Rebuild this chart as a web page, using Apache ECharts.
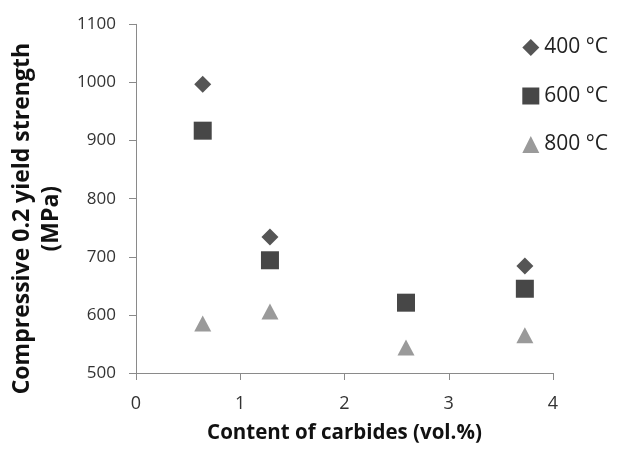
<!DOCTYPE html>
<html>
<head>
<meta charset="utf-8">
<script src="https://cdn.jsdelivr.net/npm/echarts@6/dist/echarts.min.js"></script>
<style>html,body{margin:0;padding:0;background:#fff}#c{width:617px;height:457px}</style>
</head>
<body>
<div id="c"></div>
<script>
var seriesNames = ['400 °C', '600 °C', '800 °C'];
var x400 = [0.64, 1.285, 3.73];
var y400 = [997, 734, 684];
var x600 = [0.64, 1.285, 2.59, 3.73];
var y600 = [917, 694, 621, 645];
var x800 = [0.64, 1.285, 2.59, 3.73];
var y800 = [585, 606, 544, 565];
var xTitle = 'Content of carbides (vol.%)';
var yTitle = 'Compressive 0.2 yield strength\n(MPa)';

function pairs(xs, ys) { return xs.map(function (x, i) { return [x, ys[i]]; }); }

var font = '"Open Sans", "Noto Sans", sans-serif';
var chart = echarts.init(document.getElementById('c'), null, {renderer: 'canvas'});
chart.setOption({
  animation: false,
  backgroundColor: '#fff',
  grid: {left: 136, right: 64, top: 22, bottom: 84, containLabel: false},
  legend: {
    orient: 'vertical', right: 4, top: 32,
    itemWidth: 17, itemHeight: 17, itemGap: 27.5,
    textStyle: {fontFamily: font, fontSize: 21, color: '#222'},
    data: [
      {name: seriesNames[0], icon: 'diamond'},
      {name: seriesNames[1], icon: 'rect'},
      {name: seriesNames[2], icon: 'triangle'}
    ]
  },
  xAxis: {
    type: 'value', min: 0, max: 4, interval: 1,
    name: xTitle, nameLocation: 'middle', nameGap: 50,
    nameTextStyle: {fontFamily: font, fontSize: 20.5, fontWeight: 'bold', color: '#111'},
    axisLine: {show: true, lineStyle: {color: '#8a8a8a', width: 1}},
    axisTick: {show: true, length: 7, lineStyle: {color: '#8a8a8a'}},
    axisLabel: {fontFamily: font, fontSize: 18, color: '#333', margin: 22,
      formatter: function (v) { return String(v); }},
    splitLine: {show: false}
  },
  yAxis: {
    type: 'value', min: 500, max: 1100, interval: 100,
    name: yTitle, nameLocation: 'middle', nameGap: 68, nameRotate: 90,
    nameTextStyle: {fontFamily: font, fontSize: 23, fontWeight: 'bold', color: '#111', lineHeight: 29, padding: [0, 40, 0, 0]},
    axisLine: {show: true, lineStyle: {color: '#8a8a8a', width: 1}},
    axisTick: {show: true, length: 7, lineStyle: {color: '#8a8a8a'}},
    axisLabel: {fontFamily: font, fontSize: 17, color: '#333', margin: 20,
      formatter: function (v) { return String(v); }},
    splitLine: {show: false}
  },
  series: [
    {name: seriesNames[0], type: 'scatter', symbol: 'diamond', symbolSize: 17,
     itemStyle: {color: '#555555', opacity: 1}, data: pairs(x400, y400)},
    {name: seriesNames[1], type: 'scatter', symbol: 'rect', symbolSize: 18,
     itemStyle: {color: '#474747', opacity: 1}, data: pairs(x600, y600)},
    {name: seriesNames[2], type: 'scatter', symbol: 'triangle', symbolSize: [17, 16],
     itemStyle: {color: '#9a9a9a', opacity: 1}, data: pairs(x800, y800)}
  ]
});
</script>
</body>
</html>
